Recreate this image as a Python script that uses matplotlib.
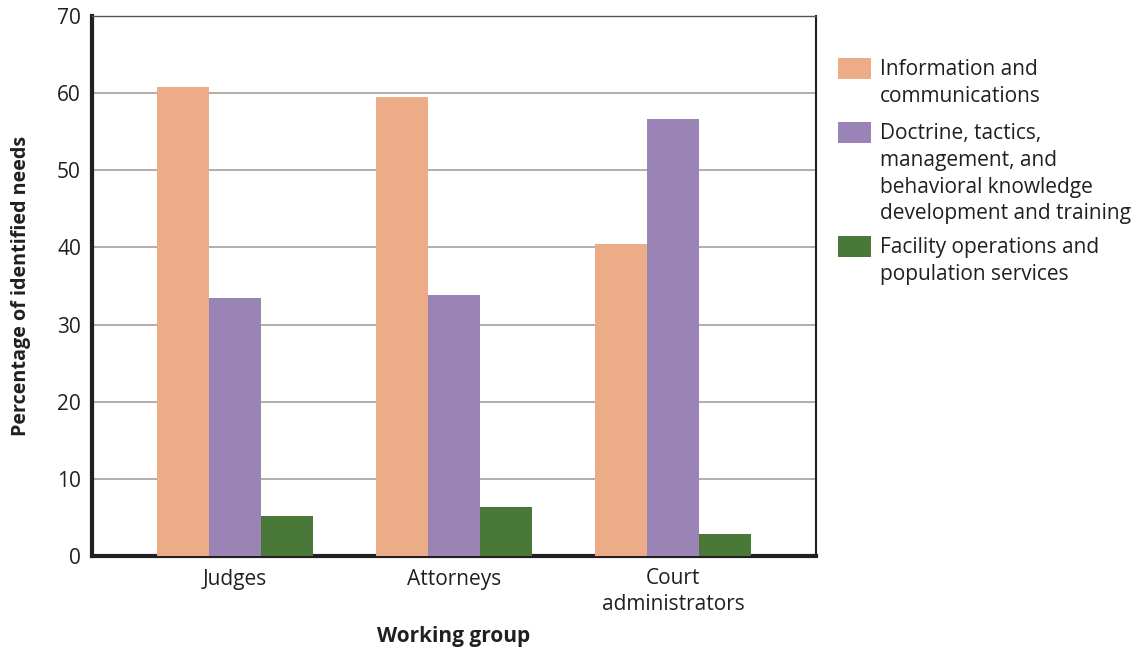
#!/usr/bin/env python3
"""Grouped bar chart of identified needs by working group."""
import matplotlib.pyplot as plt
from matplotlib.patches import Rectangle
import numpy as np

groups = ["Judges", "Attorneys", "Court\nadministrators"]
series_names = ["Information and\ncommunications",
                "Doctrine, tactics,\nmanagement, and\nbehavioral knowledge\ndevelopment and training",
                "Facility operations and\npopulation services"]
info_vals = [60.8, 59.5, 40.4]
doctrine_vals = [33.4, 33.8, 56.6]
facility_vals = [5.2, 6.4, 2.8]
y_ticks = [0, 10, 20, 30, 40, 50, 60, 70]

colors = ["#EBAC87", "#9A84B5", "#4A7838"]
text_color = "#231F20"


def plot_needs():
    plt.rcParams['font.family'] = ['Open Sans', 'DejaVu Sans']
    plt.rcParams['text.color'] = text_color
    plt.rcParams['xtick.color'] = text_color
    plt.rcParams['ytick.color'] = text_color
    plt.rcParams['axes.labelcolor'] = text_color
    W, H = 1147, 648
    fig = plt.figure(figsize=(W / 100, H / 100), dpi=100)
    ax = fig.add_axes([92 / W, 1 - 556 / H, 724 / W, 540 / H])

    x = np.arange(len(groups))
    width = 0.238
    values = [info_vals, doctrine_vals, facility_vals]
    for i, (vals, name) in enumerate(zip(values, series_names)):
        ax.bar(x + (i - 1) * width, vals, width, color=colors[i],
               label=name, zorder=3)

    ax.set_xlim(-0.653, 2.653)
    ax.set_ylim(0, 70)
    ax.set_yticks(y_ticks)
    ax.set_xticks(x)
    ax.set_xticklabels(groups, fontsize=15, linespacing=1.3)
    ax.tick_params(axis='y', labelsize=15, length=0, pad=8)
    ax.tick_params(axis='x', length=0, pad=9)
    ax.yaxis.grid(True, color="#ABA7A5", linewidth=1.3, zorder=0)
    ax.set_axisbelow(True)

    for side in ('left', 'bottom'):
        ax.spines[side].set_linewidth(3)
        ax.spines[side].set_color(text_color)
    ax.spines['top'].set_linewidth(1)
    ax.spines['top'].set_color("#555555")
    ax.spines['right'].set_linewidth(1.5)
    ax.spines['right'].set_color(text_color)

    ax.set_ylabel("Percentage of identified needs", fontsize=14.2,
                  fontweight='bold', labelpad=19)
    ax.set_xlabel("Working group", fontsize=15, fontweight='bold',
                  labelpad=8)

    # Legend drawn by hand so the swatch lines up with the first text line.
    tops = [58, 122, 236]
    for name, color, top in zip(series_names, colors, tops):
        fig.add_artist(Rectangle((838 / W, 1 - (top + 21) / H), 33 / W,
                                 21 / H, transform=fig.transFigure,
                                 facecolor=color, edgecolor='none'))
        fig.text(880 / W, 1 - (top + 1) / H, name, fontsize=15,
                 va='top', ha='left', linespacing=1.36)

    fig.savefig("out.png", dpi=100)


if __name__ == '__main__':
    plot_needs()
